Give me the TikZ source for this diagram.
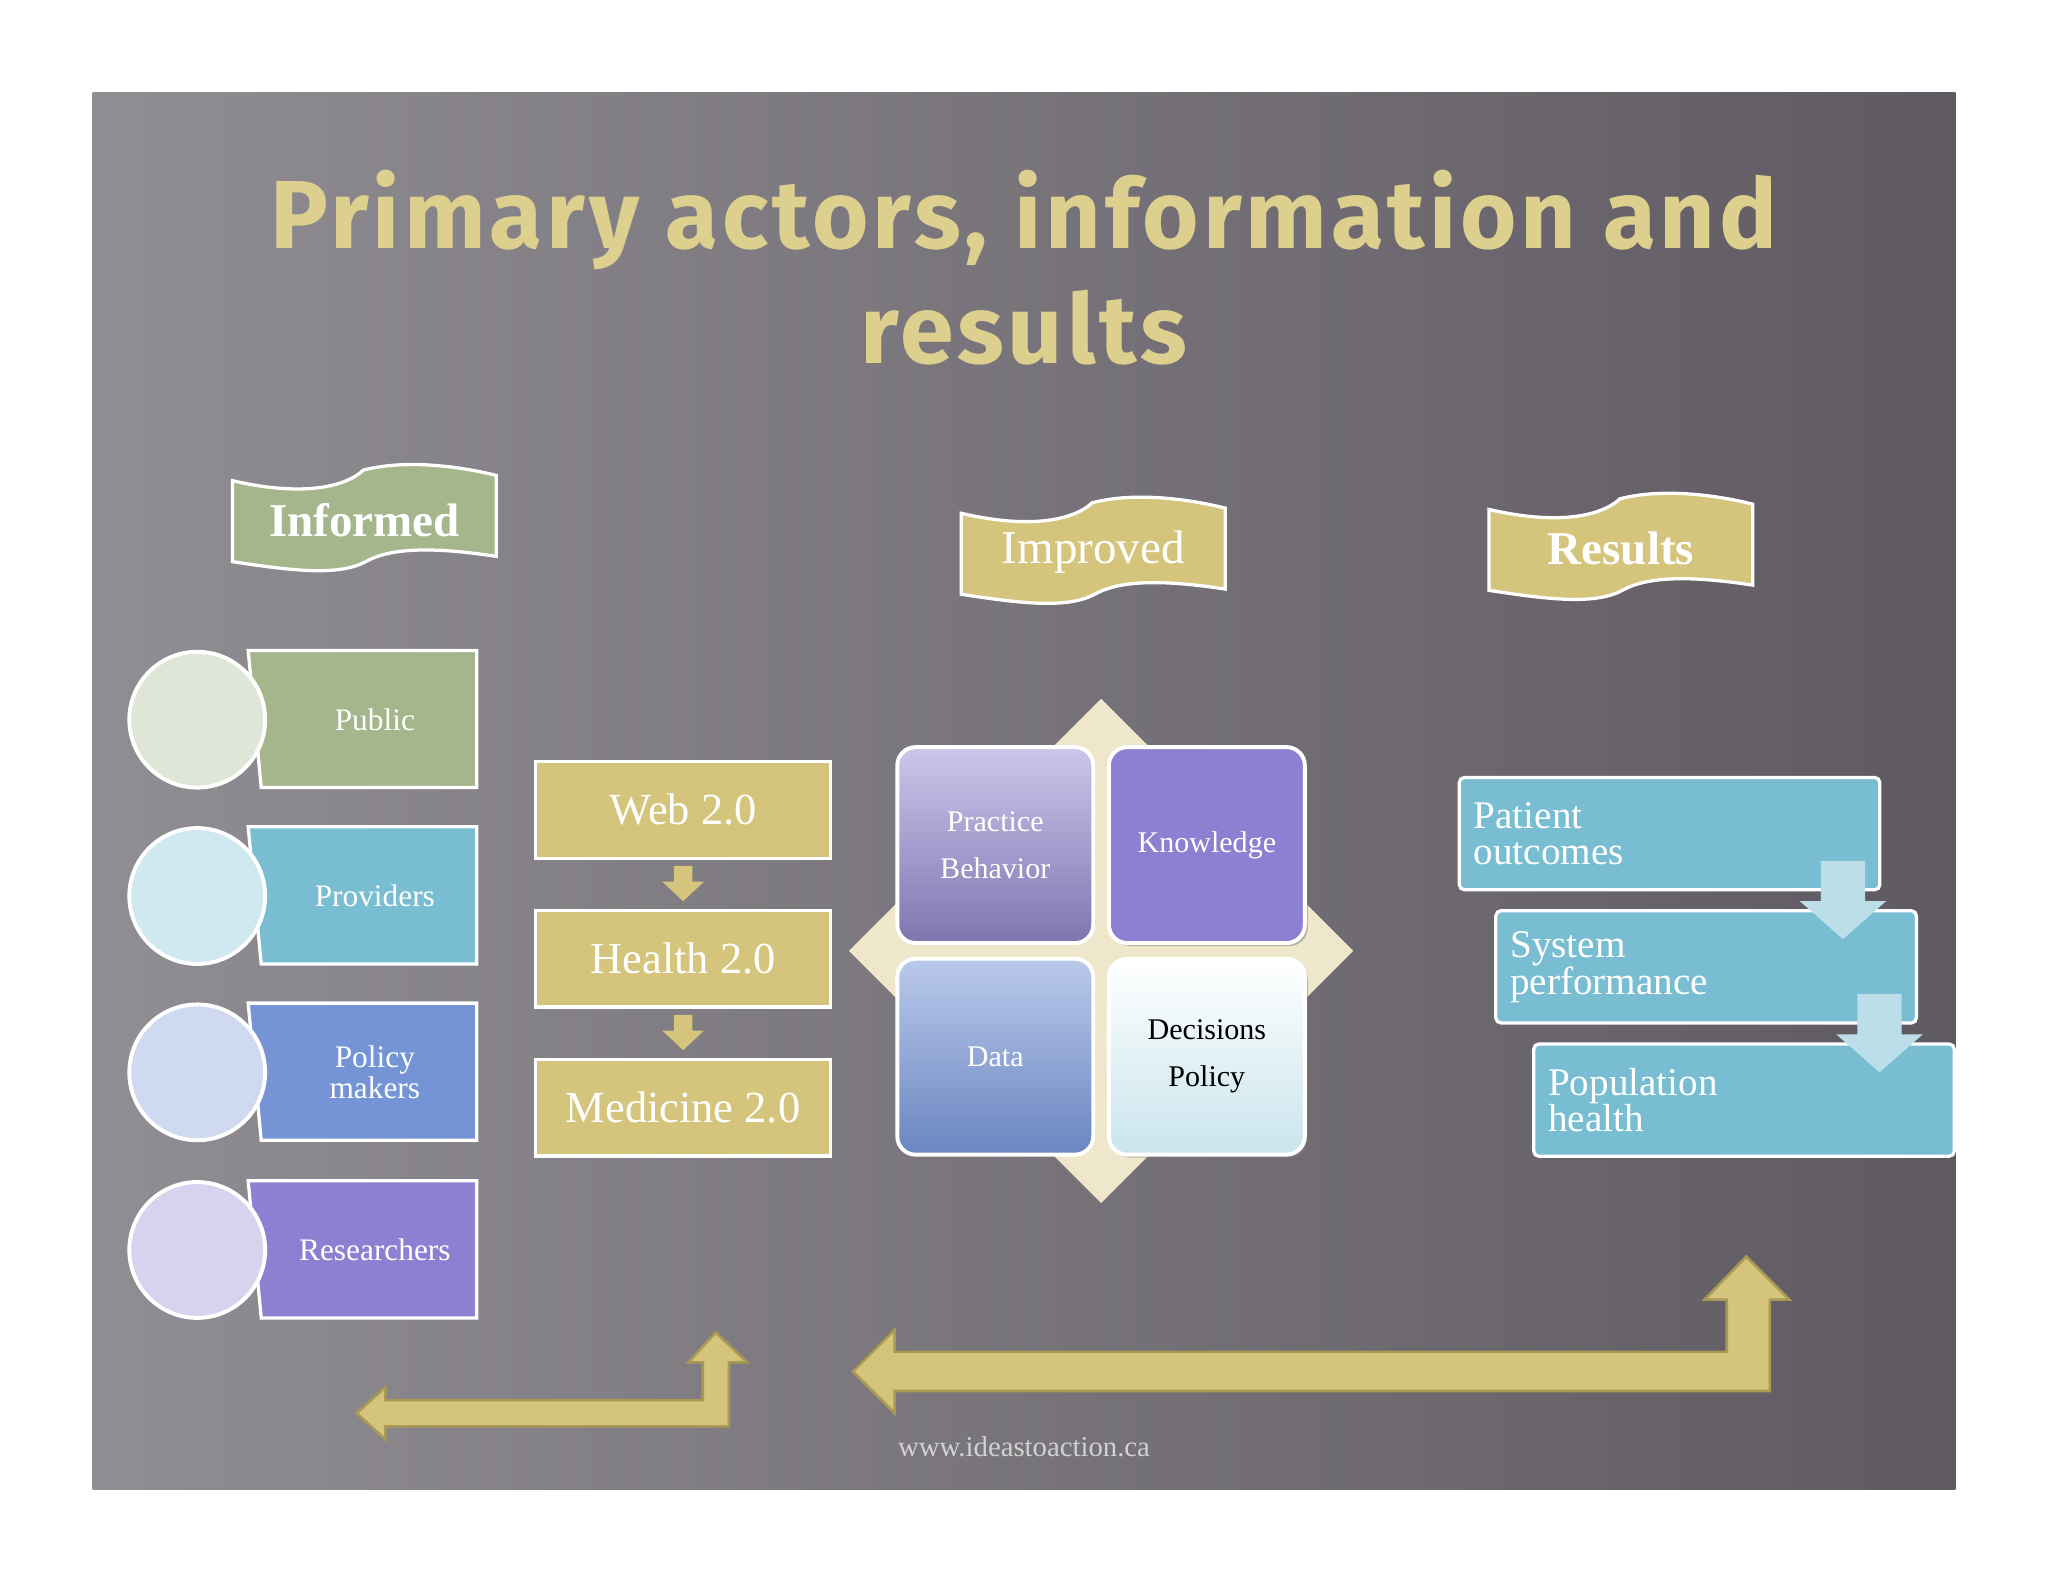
\documentclass[tikz,border=0pt]{standalone}
\usepackage{fontspec}
\setmainfont{Liberation Serif}
\newfontfamily\titlefont[LetterSpace=4]{Fira Sans}
\usetikzlibrary{shadows}
\definecolor{gold}{HTML}{D4C47C}
\definecolor{golddk}{HTML}{A89A55}
\definecolor{ttl}{HTML}{DDD08F}
\definecolor{grn}{HTML}{A5B68D}
\definecolor{teal}{HTML}{78BDD1}
\definecolor{blu}{HTML}{7594D6}
\definecolor{purp}{HTML}{8D80D2}
\definecolor{bgl}{HTML}{908D93}
\definecolor{bgd}{HTML}{5F5A61}
\tikzset{
 tab/.style={draw=white,line width=2.5pt},
 circ/.style={circle,draw=white,line width=3pt,minimum size=104pt,inner sep=0},
 webbox/.style={draw=white,line width=2.5pt,fill=gold,minimum width=226pt,minimum height=74pt,font=\fontsize{34}{36}\selectfont,text=white},
 resbox/.style={draw=white,line width=2.5pt,fill=teal,rounded corners=4pt,minimum width=322pt,minimum height=86pt,text=white,font=\fontsize{30}{27}\selectfont,align=left,anchor=north west,text width=300pt},
 sq/.style={draw=white,line width=3pt,rounded corners=14pt,minimum size=150pt,align=center,font=\fontsize{23}{36}\selectfont},
 smallarr/.style={fill=gold},
 bigarr/.style={fill=gold,draw=golddk,line width=2pt},
}
\begin{document}
\begin{tikzpicture}[x=1pt,y=-1pt]
\useasboundingbox (0,0) rectangle (1568,1211);
\fill[white] (0,0) rectangle (1568,1211);
\shade[shading angle=135,left color=bgl,right color=bgd] (71,71) rectangle (1497,1140);
\node[font=\titlefont\bfseries\fontsize{74}{88}\selectfont,text=ttl,align=center] (title) at (784,205) {Primary actors, information and\\results};
% banners
\foreach \x/\y/\c/\t/\nm/\fw in {178/360/grn/Informed/b1/\bfseries,736/385/gold/Improved/b2/\mdseries,1140/382/gold/Results/b3/\bfseries}{
 \filldraw[fill=\c,draw=white,line width=2.5pt] (\x,\y+8) .. controls (\x+60,\y+22) and (\x+90,\y+10) .. (\x+100,\y) .. controls (\x+130,\y-8) and (\x+170,\y-4) .. (\x+202,\y+4) -- (\x+202,\y+66) .. controls (\x+150,\y+58) and (\x+120,\y+60) .. (\x+102,\y+70) .. controls (\x+80,\y+82) and (\x+40,\y+76) .. (\x,\y+70) -- cycle;
 \node[text=white,font=\fw\fontsize{36}{36}\selectfont] (\nm) at (\x+101,\y+38) {\t};
}
% actors
\foreach \y/\c/\t/\n in {551/grn/Public/p1,686/teal/Providers/p2,821/blu/{Policy\\makers}/p3,957/purp/Researchers/p4}{
 \filldraw[tab,fill=\c] (190,\y-53) -- (365,\y-53) -- (365,\y+52) -- (200,\y+52) -- cycle;
 \node[circ,fill=\c!35!white] (c\n) at (151,\y) {};
 \node[text=white,align=center,font=\fontsize{24}{24}\selectfont] (\n) at (287,\y) {\t};
}
% web column
\node[webbox] (w1) at (523,620) {Web 2.0};
\node[webbox] (w2) at (523,734) {Health 2.0};
\node[webbox] (w3) at (523,848) {Medicine 2.0};
\foreach \y in {663,777}{\fill[smallarr] (516,\y) -- (530,\y) -- (530,\y+12) -- (539,\y+12) -- (523,\y+27) -- (507,\y+12) -- (516,\y+12) -- cycle;}
% matrix
\fill[gold!40!white] (843,535) -- (1036,728) -- (843,921) -- (650,728) -- cycle;
\node[sq,top color=purp!45!white,bottom color=purp!80!black!90,text=white] (pb) at (762,647) {Practice\\Behavior};
\node[sq,fill=purp,text=white,drop shadow] (kn) at (924,647) {Knowledge};
\node[sq,top color=blu!50!white,bottom color=blu!90!black,text=white] (da) at (762,809) {Data};
\node[sq,top color=white,bottom color=teal!40!white,text=black,drop shadow] (de) at (924,809) {Decisions\\Policy};
% results
\node[resbox] (r1) at (1116,594) {Patient\\outcomes};
\node[resbox] (r2) at (1144,696) {System\\performance};
\node[resbox] (r3) at (1173,798) {Population\\health};
\fill[teal!50!white] (1394,659) -- (1428,659) -- (1428,690) -- (1444,690) -- (1411,719) -- (1378,690) -- (1394,690) -- cycle;
\fill[teal!50!white] (1422,761) -- (1456,761) -- (1456,792) -- (1472,792) -- (1439,821) -- (1406,792) -- (1422,792) -- cycle;
% bottom arrows
\filldraw[bigarr] (273,1082) -- (295,1062) -- (295,1072) -- (538,1072) -- (538,1043) -- (527,1043) -- (548,1020) -- (572,1043) -- (558,1043) -- (558,1092) -- (295,1092) -- (295,1102) -- cycle;
\filldraw[bigarr] (653,1050) -- (685,1018) -- (685,1035) -- (1322,1035) -- (1322,995) -- (1305,995) -- (1337,962) -- (1370,995) -- (1355,995) -- (1355,1065) -- (685,1065) -- (685,1082) -- cycle;
\node[text=gray!35,font=\fontsize{22}{22}\selectfont] (url) at (784,1108) {www.ideastoaction.ca};
\end{tikzpicture}
\end{document}
